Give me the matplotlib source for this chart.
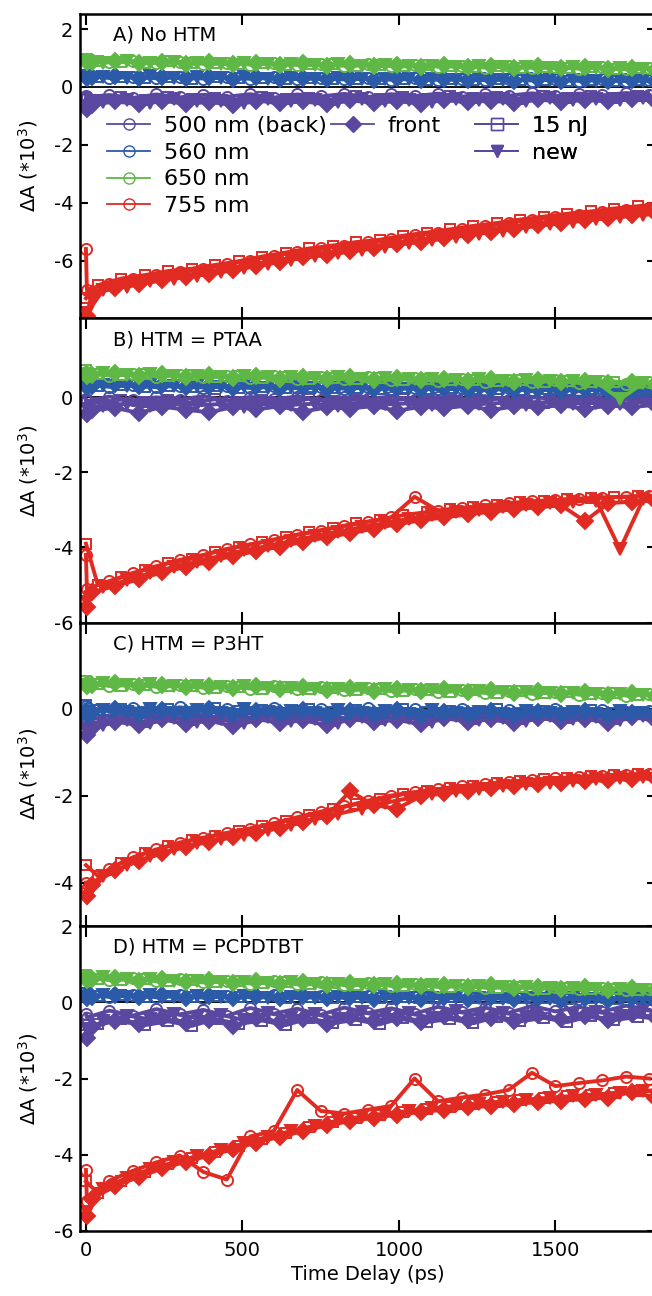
import matplotlib
matplotlib.use('Agg')
import matplotlib.pyplot as plt
from matplotlib.lines import Line2D

plt.rcParams['font.family'] = ['DejaVu Sans']
plt.rcParams['axes.unicode_minus'] = False

# ---------------- time axes (ps) for each sample type ----------------
t_back = [0, 3, 75, 150, 225, 300, 375, 450, 525, 600, 675, 750, 825, 900, 975,
          1050, 1125, 1200, 1275, 1350, 1425, 1500, 1575, 1650, 1725, 1800]
t_front = [2, 19, 94, 169, 244, 319, 394, 469, 544, 619, 694, 769, 844, 919, 994,
           1069, 1144, 1219, 1294, 1369, 1444, 1519, 1594, 1669, 1744, 1819]
t_15nJ = [0, 38, 113, 188, 263, 338, 413, 488, 563, 638, 713, 788, 863, 938, 1013,
          1088, 1163, 1238, 1313, 1388, 1463, 1538, 1613, 1688, 1763, 1838]
t_new = [4, 56, 131, 206, 281, 356, 431, 506, 581, 656, 731, 806, 881, 956, 1031,
         1106, 1181, 1256, 1331, 1406, 1481, 1556, 1631, 1706, 1781, 1856]

# ---------------- Panel A: No HTM ----------------
A_650_back = [0.95, 0.92, 0.85, 0.89, 0.82, 0.86, 0.80, 0.84, 0.77, 0.82, 0.76, 0.80, 0.73, 0.78, 0.72, 0.76, 0.70, 0.74, 0.67, 0.72, 0.66, 0.70, 0.63, 0.68, 0.61, 0.66]
A_650_front = [0.85, 0.86, 0.91, 0.83, 0.87, 0.80, 0.85, 0.78, 0.83, 0.76, 0.81, 0.74, 0.79, 0.72, 0.77, 0.70, 0.75, 0.69, 0.73, 0.66, 0.71, 0.64, 0.69, 0.62, 0.67, 0.60]
A_650_15nJ = [0.98, 0.90, 0.87, 0.84, 0.88, 0.81, 0.84, 0.79, 0.82, 0.77, 0.80, 0.78, 0.74, 0.77, 0.71, 0.75, 0.72, 0.69, 0.73, 0.67, 0.70, 0.65, 0.68, 0.63, 0.66, 0.62]
A_650_new = [0.88, 0.84, 0.89, 0.82, 0.85, 0.83, 0.79, 0.82, 0.78, 0.80, 0.75, 0.78, 0.74, 0.76, 0.71, 0.74, 0.70, 0.72, 0.68, 0.70, 0.65, 0.69, 0.64, 0.66, 0.62, 0.64]

A_560_back = [0.40, 0.37, 0.31, 0.36, 0.30, 0.35, 0.29, 0.34, 0.28, 0.33, 0.27, 0.32, 0.26, 0.31, 0.25, 0.30, 0.25, 0.29, 0.23, 0.28, 0.22, 0.27, 0.21, 0.26, 0.20, 0.24]
A_560_front = [0.30, 0.33, 0.38, 0.31, 0.36, 0.30, 0.34, 0.28, 0.33, 0.27, 0.32, 0.26, 0.31, 0.25, 0.30, 0.24, 0.29, 0.23, 0.28, 0.22, 0.27, 0.21, 0.26, 0.20, 0.25, 0.19]
A_560_15nJ = [0.42, 0.34, 0.36, 0.32, 0.35, 0.29, 0.33, 0.30, 0.31, 0.28, 0.31, 0.27, 0.29, 0.26, 0.28, 0.25, 0.27, 0.24, 0.26, 0.23, 0.25, 0.22, 0.24, 0.21, 0.23, 0.21]
A_560_new = [0.28, 0.36, 0.32, 0.37, 0.31, 0.34, 0.30, 0.33, 0.29, 0.31, 0.28, 0.30, 0.27, 0.29, 0.26, 0.28, 0.25, 0.27, 0.24, 0.26, 0.23, 0.25, 0.22, 0.24, 0.21, 0.23]

A_500_back = [-0.30, -0.35, -0.28, -0.38, -0.26, -0.36, -0.27, -0.34, -0.25, -0.37, -0.26, -0.33, -0.24, -0.35, -0.25, -0.32, -0.23, -0.34, -0.24, -0.30, -0.22, -0.32, -0.23, -0.29, -0.21, -0.27]
A_500_front = [-0.75, -0.62, -0.50, -0.60, -0.48, -0.58, -0.52, -0.62, -0.47, -0.56, -0.50, -0.60, -0.46, -0.55, -0.49, -0.58, -0.45, -0.53, -0.47, -0.56, -0.43, -0.52, -0.45, -0.50, -0.42, -0.48]
A_500_15nJ = [-0.40, -0.44, -0.36, -0.46, -0.35, -0.42, -0.38, -0.45, -0.34, -0.41, -0.37, -0.44, -0.33, -0.40, -0.36, -0.42, -0.32, -0.39, -0.35, -0.41, -0.31, -0.37, -0.33, -0.38, -0.30, -0.35]
A_500_new = [-0.65, -0.52, -0.45, -0.55, -0.43, -0.50, -0.47, -0.56, -0.42, -0.49, -0.45, -0.53, -0.41, -0.48, -0.44, -0.51, -0.40, -0.46, -0.43, -0.49, -0.38, -0.45, -0.41, -0.46, -0.37, -0.43]

A_755_back = [-5.6, -7.0, -6.8, -6.62, -6.5, -6.38, -6.3, -6.12, -6.0, -5.83, -5.7, -5.58, -5.5, -5.37, -5.26, -5.13, -5.05, -4.92, -4.82, -4.7, -4.6, -4.5, -4.43, -4.33, -4.26, -4.17]
A_755_front = [-7.9, -7.15, -6.95, -6.82, -6.68, -6.57, -6.45, -6.33, -6.18, -6.04, -5.88, -5.8, -5.68, -5.58, -5.44, -5.34, -5.22, -5.12, -5.0, -4.9, -4.78, -4.7, -4.6, -4.52, -4.42, -4.35]
A_755_15nJ = [-7.3, -6.85, -6.62, -6.5, -6.36, -6.28, -6.15, -6.02, -5.86, -5.72, -5.58, -5.48, -5.36, -5.28, -5.14, -5.03, -4.92, -4.8, -4.7, -4.58, -4.48, -4.38, -4.3, -4.2, -4.12, -4.05]
A_755_new = [-7.8, -7.0, -6.9, -6.72, -6.62, -6.52, -6.4, -6.26, -6.12, -5.97, -5.85, -5.74, -5.63, -5.52, -5.4, -5.3, -5.18, -5.07, -4.96, -4.85, -4.75, -4.66, -4.57, -4.5, -4.42, -4.36]

# ---------------- Panel B: HTM = PTAA ----------------
B_650_back = [0.68, 0.65, 0.58, 0.63, 0.55, 0.60, 0.53, 0.58, 0.51, 0.56, 0.50, 0.54, 0.48, 0.53, 0.46, 0.51, 0.44, 0.49, 0.42, 0.47, 0.40, 0.45, 0.38, 0.43, 0.35, 0.40]
B_650_front = [0.58, 0.60, 0.64, 0.57, 0.61, 0.55, 0.59, 0.52, 0.57, 0.50, 0.55, 0.49, 0.53, 0.47, 0.51, 0.45, 0.50, 0.44, 0.48, 0.42, 0.46, 0.40, 0.44, 0.38, 0.42, 0.36]
B_650_15nJ = [0.72, 0.63, 0.60, 0.62, 0.56, 0.59, 0.54, 0.56, 0.52, 0.55, 0.50, 0.52, 0.49, 0.51, 0.47, 0.49, 0.45, 0.47, 0.43, 0.46, 0.42, 0.44, 0.40, 0.42, 0.37, 0.39]
B_650_new = [0.60, 0.66, 0.59, 0.61, 0.57, 0.58, 0.55, 0.57, 0.53, 0.54, 0.52, 0.53, 0.50, 0.51, 0.48, 0.50, 0.46, 0.48, 0.44, 0.45, 0.43, 0.43, 0.41, -0.05, 0.38, 0.37]

B_560_back = [0.36, 0.33, 0.28, 0.33, 0.27, 0.31, 0.26, 0.30, 0.25, 0.29, 0.24, 0.28, 0.23, 0.27, 0.22, 0.26, 0.21, 0.25, 0.20, 0.24, 0.19, 0.22, 0.18, 0.21, 0.17, 0.19]
B_560_front = [0.28, 0.31, 0.35, 0.29, 0.32, 0.27, 0.31, 0.25, 0.29, 0.24, 0.28, 0.23, 0.27, 0.22, 0.26, 0.21, 0.25, 0.20, 0.23, 0.19, 0.22, 0.18, 0.21, 0.17, 0.19, 0.16]
B_560_15nJ = [0.38, 0.30, 0.32, 0.28, 0.31, 0.27, 0.29, 0.26, 0.28, 0.25, 0.27, 0.24, 0.26, 0.23, 0.25, 0.22, 0.24, 0.21, 0.22, 0.20, 0.21, 0.19, 0.20, 0.17, 0.18, 0.16]
B_560_new = [0.26, 0.34, 0.30, 0.33, 0.29, 0.30, 0.27, 0.29, 0.26, 0.27, 0.25, 0.26, 0.24, 0.25, 0.23, 0.24, 0.22, 0.23, 0.21, 0.21, 0.20, 0.20, 0.19, 0.18, 0.17, 0.17]

B_500_back = [-0.05, -0.10, 0.02, -0.08, 0.00, -0.06, 0.03, -0.09, 0.01, -0.05, 0.02, -0.07, 0.00, -0.04, 0.02, -0.06, 0.01, -0.05, 0.03, -0.06, 0.00, -0.04, 0.02, -0.05, 0.01, -0.03]
B_500_front = [-0.45, -0.35, -0.28, -0.42, -0.25, -0.33, -0.40, -0.26, -0.32, -0.24, -0.38, -0.27, -0.30, -0.23, -0.36, -0.25, -0.29, -0.22, -0.34, -0.24, -0.27, -0.21, -0.31, -0.22, -0.26, -0.20]
B_500_15nJ = [-0.10, -0.15, -0.06, -0.13, -0.08, -0.14, -0.05, -0.12, -0.07, -0.13, -0.04, -0.11, -0.06, -0.12, -0.05, -0.10, -0.07, -0.11, -0.04, -0.10, -0.15, -0.09, -0.05, -0.08, -0.03, -0.07]
B_500_new = [-0.30, -0.22, -0.17, -0.24, -0.15, -0.21, -0.18, -0.25, -0.14, -0.20, -0.17, -0.23, -0.13, -0.19, -0.16, -0.21, -0.12, -0.18, -0.15, -0.20, -0.11, -0.17, -0.14, -0.18, -0.10, -0.15]

B_755_back = [-4.2, -5.1, -4.9, -4.68, -4.5, -4.33, -4.2, -4.04, -3.92, -3.8, -3.66, -3.55, -3.43, -3.32, -3.2, -2.65, -3.02, -2.95, -2.88, -2.82, -2.77, -2.73, -2.7, -2.67, -2.65, -2.62]
B_755_front = [-5.6, -5.2, -5.02, -4.85, -4.66, -4.52, -4.38, -4.22, -4.1, -3.98, -3.85, -3.73, -3.62, -3.5, -3.38, -3.28, -3.2, -3.12, -3.05, -2.98, -2.93, -2.88, -3.3, -2.82, -2.78, -2.75]
B_755_15nJ = [-3.9, -5.0, -4.8, -4.6, -4.42, -4.3, -4.12, -3.98, -3.86, -3.72, -3.6, -3.48, -3.36, -3.26, -3.14, -3.06, -2.98, -2.92, -2.86, -2.8, -2.76, -2.72, -2.69, -2.66, -2.64, -2.62]
B_755_new = [-5.45, -5.05, -4.88, -4.68, -4.52, -4.38, -4.22, -4.08, -3.96, -3.83, -3.7, -3.58, -3.46, -3.35, -3.24, -3.14, -3.06, -2.99, -2.92, -2.86, -2.82, -2.78, -2.75, -4.05, -2.7, -2.68]

# ---------------- Panel C: HTM = P3HT ----------------
C_650_back = [0.60, 0.58, 0.52, 0.57, 0.50, 0.55, 0.48, 0.53, 0.46, 0.51, 0.44, 0.49, 0.42, 0.47, 0.40, 0.45, 0.38, 0.43, 0.36, 0.41, 0.34, 0.39, 0.32, 0.37, 0.30, 0.34]
C_650_front = [0.52, 0.54, 0.58, 0.51, 0.55, 0.49, 0.53, 0.47, 0.51, 0.45, 0.50, 0.43, 0.48, 0.41, 0.46, 0.40, 0.44, 0.38, 0.42, 0.36, 0.40, 0.34, 0.38, 0.32, 0.36, 0.30]
C_650_15nJ = [0.64, 0.56, 0.53, 0.55, 0.51, 0.53, 0.48, 0.50, 0.46, 0.49, 0.44, 0.47, 0.43, 0.45, 0.41, 0.43, 0.39, 0.42, 0.37, 0.40, 0.36, 0.38, 0.34, 0.36, 0.32, 0.33]
C_650_new = [0.55, 0.59, 0.54, 0.56, 0.52, 0.52, 0.50, 0.51, 0.48, 0.48, 0.46, 0.46, 0.44, 0.44, 0.42, 0.42, 0.40, 0.40, 0.38, 0.38, 0.36, 0.36, 0.34, 0.34, 0.32, 0.31]

C_560_back = [0.05, 0.02, -0.06, 0.01, -0.07, 0.03, -0.05, 0.00, -0.08, 0.02, -0.06, -0.01, -0.09, 0.01, -0.07, -0.02, -0.10, 0.00, -0.08, -0.03, -0.10, -0.01, -0.09, -0.04, -0.11, -0.05]
C_560_front = [-0.15, -0.08, -0.02, -0.12, -0.04, -0.10, -0.01, -0.13, -0.05, -0.11, -0.03, -0.14, -0.06, -0.12, -0.04, -0.15, -0.07, -0.12, -0.05, -0.14, -0.08, -0.13, -0.06, -0.15, -0.09, -0.12]
C_560_15nJ = [0.08, -0.04, 0.00, -0.07, -0.02, -0.08, 0.01, -0.06, -0.03, -0.09, 0.00, -0.07, -0.04, -0.10, -0.01, -0.08, -0.05, -0.11, -0.02, -0.09, -0.06, -0.11, -0.03, -0.10, -0.07, -0.09]
C_560_new = [-0.10, -0.03, -0.08, 0.00, -0.09, -0.04, -0.10, -0.02, -0.08, -0.05, -0.11, -0.03, -0.09, -0.06, -0.12, -0.04, -0.10, -0.07, -0.12, -0.05, -0.11, -0.08, -0.13, -0.06, -0.11, -0.09]

C_500_back = [-0.20, -0.28, -0.15, -0.25, -0.12, -0.22, -0.14, -0.24, -0.11, -0.20, -0.13, -0.23, -0.10, -0.19, -0.12, -0.21, -0.09, -0.18, -0.11, -0.20, -0.08, -0.17, -0.10, -0.19, -0.08, -0.15]
C_500_front = [-0.60, -0.45, -0.30, -0.38, -0.25, -0.35, -0.28, -0.40, -0.24, -0.33, -0.27, -0.38, -0.23, -0.31, -0.26, -0.36, -0.22, -0.30, -0.25, -0.34, -0.21, -0.29, -0.24, -0.32, -0.20, -0.27]
C_500_15nJ = [-0.35, -0.32, -0.20, -0.30, -0.18, -0.27, -0.21, -0.29, -0.17, -0.25, -0.20, -0.28, -0.16, -0.24, -0.19, -0.26, -0.15, -0.23, -0.18, -0.25, -0.14, -0.22, -0.17, -0.24, -0.13, -0.20]
C_500_new = [-0.50, -0.38, -0.26, -0.33, -0.22, -0.30, -0.25, -0.34, -0.20, -0.28, -0.23, -0.32, -0.19, -0.27, -0.22, -0.30, -0.18, -0.26, -0.21, -0.29, -0.17, -0.25, -0.20, -0.27, -0.16, -0.23]

C_755_back = [-4.0, -4.15, -3.68, -3.42, -3.24, -3.08, -2.97, -2.86, -2.76, -2.64, -2.5, -2.37, -2.25, -2.12, -2.0, -1.92, -1.85, -1.78, -1.74, -1.68, -1.64, -1.6, -1.57, -1.54, -1.52, -1.5]
C_755_front = [-4.3, -4.05, -3.72, -3.5, -3.33, -3.18, -3.06, -2.96, -2.86, -2.74, -2.6, -2.47, -1.9, -2.22, -2.3, -2.02, -1.95, -1.89, -1.83, -1.78, -1.74, -1.7, -1.67, -1.64, -1.62, -1.6]
C_755_15nJ = [-3.6, -3.85, -3.55, -3.33, -3.17, -3.03, -2.92, -2.81, -2.7, -2.58, -2.45, -2.32, -2.2, -2.08, -1.97, -1.9, -1.83, -1.77, -1.72, -1.67, -1.63, -1.59, -1.56, -1.53, -1.51, -1.49]
C_755_new = [-4.35, -3.85, -3.6, -3.4, -3.24, -3.1, -3.0, -2.9, -2.8, -2.68, -2.55, -2.42, -2.3, -2.17, -2.06, -1.97, -1.9, -1.84, -1.79, -1.74, -1.7, -1.66, -1.63, -1.6, -1.58, -1.56]

# ---------------- Panel D: HTM = PCPDTBT ----------------
D_650_back = [0.68, 0.65, 0.58, 0.63, 0.55, 0.60, 0.52, 0.57, 0.49, 0.55, 0.47, 0.52, 0.45, 0.50, 0.43, 0.47, 0.40, 0.45, 0.38, 0.43, 0.36, 0.40, 0.34, 0.38, 0.31, 0.35]
D_650_front = [0.58, 0.60, 0.64, 0.57, 0.61, 0.54, 0.58, 0.51, 0.56, 0.49, 0.53, 0.46, 0.51, 0.44, 0.48, 0.42, 0.46, 0.39, 0.44, 0.37, 0.41, 0.35, 0.39, 0.33, 0.37, 0.31]
D_650_15nJ = [0.72, 0.62, 0.59, 0.61, 0.56, 0.58, 0.53, 0.55, 0.50, 0.53, 0.47, 0.50, 0.45, 0.47, 0.43, 0.45, 0.41, 0.43, 0.38, 0.41, 0.36, 0.38, 0.34, 0.36, 0.32, 0.33]
D_650_new = [0.60, 0.66, 0.60, 0.60, 0.57, 0.57, 0.54, 0.54, 0.51, 0.52, 0.49, 0.49, 0.46, 0.47, 0.44, 0.44, 0.42, 0.42, 0.39, 0.40, 0.37, 0.37, 0.35, 0.35, 0.33, 0.32]

D_560_back = [0.22, 0.20, 0.14, 0.19, 0.13, 0.18, 0.12, 0.17, 0.13, 0.18, 0.11, 0.16, 0.12, 0.17, 0.10, 0.15, 0.11, 0.16, 0.09, 0.14, 0.10, 0.15, 0.09, 0.13, 0.08, 0.12]
D_560_front = [0.12, 0.15, 0.20, 0.13, 0.18, 0.12, 0.17, 0.11, 0.16, 0.10, 0.16, 0.10, 0.15, 0.09, 0.14, 0.09, 0.14, 0.08, 0.13, 0.08, 0.12, 0.07, 0.12, 0.07, 0.11, 0.06]
D_560_15nJ = [0.25, 0.17, 0.19, 0.15, 0.17, 0.14, 0.16, 0.13, 0.15, 0.12, 0.15, 0.12, 0.14, 0.11, 0.13, 0.11, 0.13, 0.10, 0.12, 0.10, 0.11, 0.09, 0.11, 0.09, 0.10, 0.09]
D_560_new = [0.10, 0.19, 0.15, 0.18, 0.14, 0.16, 0.13, 0.16, 0.12, 0.14, 0.12, 0.14, 0.11, 0.13, 0.11, 0.12, 0.10, 0.12, 0.09, 0.11, 0.09, 0.10, 0.08, 0.10, 0.08, 0.09]

D_500_back = [-0.30, -0.40, -0.22, -0.35, -0.18, -0.32, -0.20, -0.36, -0.15, -0.30, -0.17, -0.33, -0.14, -0.28, -0.16, -0.30, -0.12, -0.26, -0.14, -0.28, -0.10, -0.24, -0.12, -0.25, -0.09, -0.20]
D_500_front = [-0.95, -0.65, -0.48, -0.58, -0.42, -0.55, -0.46, -0.62, -0.40, -0.52, -0.44, -0.57, -0.38, -0.49, -0.42, -0.53, -0.36, -0.46, -0.40, -0.50, -0.34, -0.43, -0.37, -0.46, -0.31, -0.39]
D_500_15nJ = [-0.60, -0.58, -0.45, -0.60, -0.50, -0.62, -0.44, -0.57, -0.48, -0.60, -0.42, -0.55, -0.46, -0.58, -0.40, -0.52, -0.44, -0.55, -0.38, -0.50, -0.41, -0.52, -0.36, -0.47, -0.38, -0.44]
D_500_new = [-0.70, -0.50, -0.35, -0.45, -0.30, -0.42, -0.33, -0.47, -0.28, -0.40, -0.31, -0.44, -0.26, -0.37, -0.29, -0.41, -0.24, -0.34, -0.27, -0.38, 0.35, -0.32, -0.25, -0.35, -0.20, -0.28]

D_755_back = [-4.4, -5.2, -4.68, -4.42, -4.2, -4.02, -4.45, -4.65, -3.52, -3.38, -2.3, -2.85, -2.92, -2.82, -2.72, -2.0, -2.6, -2.5, -2.42, -2.3, -1.85, -2.2, -2.12, -2.05, -1.95, -2.0]
D_755_front = [-5.6, -5.15, -4.82, -4.58, -4.36, -4.18, -4.02, -3.86, -3.68, -3.53, -3.38, -3.23, -3.12, -3.03, -2.95, -2.88, -2.82, -2.76, -2.72, -2.67, -2.62, -2.58, -2.54, -2.5, -2.35, -2.5]
D_755_15nJ = [-4.7, -5.0, -4.68, -4.45, -4.25, -4.08, -3.92, -3.76, -3.58, -3.43, -3.28, -3.15, -3.04, -2.96, -2.88, -2.8, -2.74, -2.68, -2.62, -2.57, -2.52, -2.47, -2.43, -2.38, -2.33, -2.3]
D_755_new = [-5.5, -4.9, -4.6, -4.38, -4.2, -4.03, -3.87, -3.7, -3.53, -3.38, -3.24, -3.1, -3.0, -2.92, -2.85, -2.78, -2.72, -2.66, -2.61, -2.56, -2.51, -2.47, -2.42, -2.38, -2.34, -2.31]

# ---------------- labels ----------------
panel_titles = ['A) No HTM', 'B) HTM = PTAA', 'C) HTM = P3HT', 'D) HTM = PCPDTBT']
wavelengths = ['500', '560', '650', '755']
legend_wl = ['500 nm (back)', '560 nm', '650 nm', '755 nm']
x_ticks = [0, 500, 1000, 1500]

# ---------------- style ----------------
colors = {'500': '#5a479f', '560': '#2b5aa9', '650': '#5fb746', '755': '#e12a22'}
sample_styles = [  # (times, marker, filled, markersize)
    (t_back, 'o', False, 8.0),
    (t_front, 'D', True, 8.0),
    (t_15nJ, 's', False, 7.5),
    (t_new, 'v', True, 8.5),
]

panel_data = [
    {'500': [A_500_back, A_500_front, A_500_15nJ, A_500_new],
     '560': [A_560_back, A_560_front, A_560_15nJ, A_560_new],
     '650': [A_650_back, A_650_front, A_650_15nJ, A_650_new],
     '755': [A_755_back, A_755_front, A_755_15nJ, A_755_new]},
    {'500': [B_500_back, B_500_front, B_500_15nJ, B_500_new],
     '560': [B_560_back, B_560_front, B_560_15nJ, B_560_new],
     '650': [B_650_back, B_650_front, B_650_15nJ, B_650_new],
     '755': [B_755_back, B_755_front, B_755_15nJ, B_755_new]},
    {'500': [C_500_back, C_500_front, C_500_15nJ, C_500_new],
     '560': [C_560_back, C_560_front, C_560_15nJ, C_560_new],
     '650': [C_650_back, C_650_front, C_650_15nJ, C_650_new],
     '755': [C_755_back, C_755_front, C_755_15nJ, C_755_new]},
    {'500': [D_500_back, D_500_front, D_500_15nJ, D_500_new],
     '560': [D_560_back, D_560_front, D_560_15nJ, D_560_new],
     '650': [D_650_back, D_650_front, D_650_15nJ, D_650_new],
     '755': [D_755_back, D_755_front, D_755_15nJ, D_755_new]},
]
ylims = [(-8.0, 2.52), (-6.0, 2.1), (-5.0, 1.98), (-6.0, 2.0)]
yticks = [[-6, -4, -2, 0, 2], [-6, -4, -2, 0], [-4, -2, 0], [-6, -4, -2, 0, 2]]

W, H = 652, 1296
fig = plt.figure(figsize=(W / 100, H / 100), dpi=100)

def box(left, top, right, bottom):
    return [left / W, 1 - bottom / H, (right - left) / W, (bottom - top) / H]

boxes = [box(80, 14, 655, 318.5), box(80, 318.5, 655, 622.5),
         box(80, 622.5, 655, 926), box(80, 926, 655, 1231)]

FS = 14
axes = []
for i in range(4):
    ax = fig.add_axes(boxes[i])
    axes.append(ax)
    ax.axhline(0, color='black', lw=1.3, zorder=1)
    for wl in wavelengths:
        c = colors[wl]
        for (t, m, filled, ms), y in zip(sample_styles, panel_data[i][wl]):
            ax.plot(t, y, color=c, lw=2.8, marker=m, ms=ms,
                    mfc=c if filled else 'none', mec=c, mew=1.4, zorder=2)
    ax.set_xlim(-19, 1818)
    ax.set_ylim(*ylims[i])
    ax.set_xticks(x_ticks)
    ax.set_yticks(yticks[i])
    ax.tick_params(axis='x', direction='in', length=8, width=1.5, top=True,
                   labelsize=FS, pad=7)
    ax.tick_params(axis='y', direction='in', length=6, width=1.5, right=True,
                   labelsize=FS, pad=5)
    if i < 3:
        ax.tick_params(axis='x', labelbottom=False)
    for s in ax.spines.values():
        s.set_linewidth(1.8)
    ax.text(0.058, 0.93, panel_titles[i], transform=ax.transAxes,
            fontsize=FS, va='center', ha='left')
    ax.set_ylabel('ΔA (*10$^{3}$)', fontsize=FS)
    ax.yaxis.set_label_coords(-0.07, 0.5)

axes[3].set_xlabel('Time Delay (ps)', fontsize=FS, labelpad=4)

# ---------------- legends in panel A ----------------
axA = axes[0]
purple = colors['500']
h_wl = [Line2D([], [], color=colors[w], lw=1.3, marker='o', ms=8, mfc='none',
               mec=colors[w], mew=1.0) for w in wavelengths]
h_front = [Line2D([], [], color=purple, lw=1.3, marker='D', ms=8, mfc=purple, mec=purple)]
h_other = [Line2D([], [], color=purple, lw=1.3, marker='s', ms=8, mfc='none', mec=purple),
           Line2D([], [], color=purple, lw=1.3, marker='v', ms=9, mfc=purple, mec=purple)]

LFS = 16

def add_leg(handles, labels, x_px, top_px):
    bx = (x_px - 80) / 575.0
    by = 1 - (top_px - 14) / 304.5
    leg = axA.legend(handles, labels, loc='upper left', bbox_to_anchor=(bx, by),
                     frameon=False, fontsize=LFS, handlelength=1.95,
                     handletextpad=0.6, labelspacing=0.3, borderpad=0,
                     borderaxespad=0)
    axA.add_artist(leg)
    return leg

add_leg(h_wl, legend_wl, 107, 116)
add_leg(h_front, ['front'], 331, 116)
add_leg(h_other, ['15 nJ', 'new'], 475, 116)

fig.savefig('out.png', dpi=100)
